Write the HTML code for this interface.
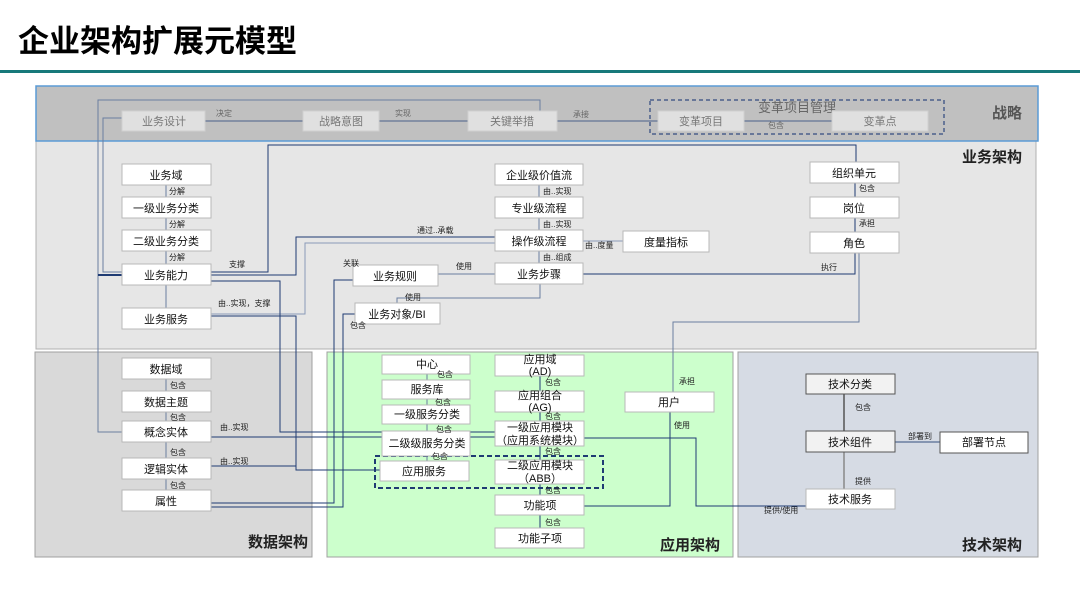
<!DOCTYPE html>
<html><head><meta charset="utf-8"><style>
html,body{margin:0;padding:0;background:#fff;width:1080px;height:608px;overflow:hidden}
svg text{font-family:"Liberation Sans","Noto Sans CJK SC",sans-serif}
</style></head><body>
<svg width="1080" height="608" viewBox="0 0 1080 608" xmlns="http://www.w3.org/2000/svg">
<text x="18" y="52" font-size="31" font-weight="bold" fill="#000">企业架构扩展元模型</text>
<rect x="0" y="70" width="1080" height="3" fill="#17797a"/>

<!-- areas -->
<rect x="36" y="141" width="1000" height="208" fill="#e6e6e6" stroke="#b0b0b0"/>
<rect x="36" y="86" width="1002" height="55" fill="#c0c0c0" stroke="#5b9bd5" stroke-width="1.5"/>
<rect x="35" y="352" width="277" height="205" fill="#d9d9d9" stroke="#a0a0a0"/>
<rect x="327" y="352" width="406" height="205" fill="#ccffcc" stroke="#a0a0a0"/>
<rect x="738" y="352" width="300" height="205" fill="#d6dbe4" stroke="#a0a0a0"/>

<g font-weight="bold" fill="#222" font-size="15">
<text x="992" y="118" fill="#555">战略</text>
<text x="962" y="162">业务架构</text>
<text x="248" y="547">数据架构</text>
<text x="660" y="550">应用架构</text>
<text x="962" y="550">技术架构</text>
</g>

<!-- connectors -->
<g fill="none" stroke="#1f3b73" stroke-width="1">
<path d="M205 121H303M379 121H468M557 121H658M744 121H832" stroke="#4a5f8a"/>
<path d="M540 111V100H98V432H122" stroke="#6a7ea0"/>
<path d="M122 118H103V272H122" stroke="#6a7ea0"/>
<path d="M98 275H122" stroke-width="2"/>
<path d="M211 272H268V145H856V162"/>
<path d="M211 275H296V237H495"/>
<path d="M211 314H305V243H495" stroke="#8a9ab8"/>
<path d="M211 281H280V432H495"/>
<path d="M211 437H495"/>
<path d="M211 316H296V470H380"/>
<path d="M211 466H296"/>
<path d="M211 503H334V280H353"/>
<path d="M211 507H343V314H355"/>
<path d="M438 274H495" stroke="#6a7ea0"/>
<path d="M540 284V298H397V303" stroke="#6a7ea0"/>
<path d="M583 274H855V253"/>
<path d="M859 253V322H673V392" stroke="#6a7ea0"/>
<path d="M583 241H623" stroke="#8a9ab8"/>
<path d="M670 412V506H584"/>
<path d="M584 438H696V506H806" stroke="#1f3b73"/>
<path d="M166 185V197M166 218V230M166 251V264M166 285V308" stroke="#6a7ea0"/>
<path d="M539 185V197M539 218V230M539 251V263" stroke="#6a7ea0"/>
<path d="M855 183V197M855 218V232" stroke="#1f3b73"/>
<path d="M166 379V391M166 412V421M166 442V458M166 479V490" stroke="#6a7ea0"/>
<path d="M427 374V380M427 399V405M427 424V431M427 456V461" stroke="#6a7ea0"/>
<path d="M540 376V391M540 412V421M540 446V460M540 484V495M540 515V528" stroke="#1f3b73"/>
<path d="M844 394V431" stroke="#555" stroke-width="1.5"/>
<path d="M844 452V489" stroke="#888" stroke-width="1.5"/>
<path d="M882 442H940" stroke="#6a7ea0" stroke-width="1.5"/>
</g>

<rect x="650" y="100" width="294" height="34" fill="none" stroke="#4a5f8a" stroke-width="1.5" stroke-dasharray="4,3"/>
<rect x="375" y="456" width="228" height="32" fill="none" stroke="#1f3b73" stroke-width="2" stroke-dasharray="5,3"/>
<text x="797" y="112" font-size="13" fill="#666" text-anchor="middle">变革项目管理</text>

<g fill="#e0e0e0" stroke="#d0d0d0">
<rect x="122" y="111" width="83" height="20"/>
<rect x="303" y="111" width="76" height="20"/>
<rect x="468" y="111" width="89" height="20"/>
<rect x="658" y="111" width="86" height="20"/>
<rect x="832" y="111" width="96" height="20"/>
</g>
<g font-size="11" fill="#777" text-anchor="middle">
<text x="164" y="125">业务设计</text>
<text x="341" y="125">战略意图</text>
<text x="512" y="125">关键举措</text>
<text x="701" y="125">变革项目</text>
<text x="880" y="125">变革点</text>
</g>

<g fill="#fff" stroke="#b8b8b8">
<rect x="122" y="164" width="89" height="21"/><rect x="122" y="197" width="89" height="21"/>
<rect x="122" y="230" width="89" height="21"/><rect x="122" y="264" width="89" height="21"/>
<rect x="122" y="308" width="89" height="21"/>
<rect x="495" y="164" width="88" height="21"/><rect x="495" y="197" width="88" height="21"/>
<rect x="495" y="230" width="88" height="21"/><rect x="495" y="263" width="88" height="21"/>
<rect x="623" y="231" width="86" height="21"/>
<rect x="353" y="265" width="85" height="21"/><rect x="355" y="303" width="85" height="21"/>
<rect x="810" y="162" width="89" height="21"/><rect x="810" y="197" width="89" height="21"/>
<rect x="810" y="232" width="89" height="21"/>
<rect x="122" y="358" width="89" height="21"/><rect x="122" y="391" width="89" height="21"/>
<rect x="122" y="421" width="89" height="21"/><rect x="122" y="458" width="89" height="21"/>
<rect x="122" y="490" width="89" height="21"/>
<rect x="382" y="355" width="88" height="19"/><rect x="382" y="380" width="88" height="19"/>
<rect x="382" y="405" width="88" height="19"/><rect x="382" y="431" width="88" height="25"/>
<rect x="380" y="461" width="89" height="20"/>
<rect x="495" y="355" width="89" height="21"/><rect x="495" y="391" width="89" height="21"/>
<rect x="495" y="421" width="89" height="25"/><rect x="495" y="460" width="89" height="24"/>
<rect x="495" y="495" width="89" height="20"/><rect x="495" y="528" width="89" height="20"/>
<rect x="625" y="392" width="89" height="20"/>
<rect x="806" y="374" width="89" height="20" fill="#f2f2f2" stroke="#555"/>
<rect x="806" y="431" width="89" height="21" fill="#f2f2f2" stroke="#555"/>
<rect x="806" y="489" width="89" height="20"/>
<rect x="940" y="432" width="88" height="21" stroke="#555"/>
</g>
<g font-size="11" fill="#111" text-anchor="middle">
<text x="166" y="179">业务域</text><text x="166" y="212">一级业务分类</text>
<text x="166" y="245">二级业务分类</text><text x="166" y="279">业务能力</text>
<text x="166" y="323">业务服务</text>
<text x="539" y="179">企业级价值流</text><text x="539" y="212">专业级流程</text>
<text x="539" y="245">操作级流程</text><text x="539" y="278">业务步骤</text>
<text x="666" y="246">度量指标</text>
<text x="395" y="280">业务规则</text><text x="397" y="318">业务对象/BI</text>
<text x="854" y="177">组织单元</text><text x="854" y="212">岗位</text><text x="854" y="247">角色</text>
<text x="166" y="373">数据域</text><text x="166" y="406">数据主题</text>
<text x="166" y="436">概念实体</text><text x="166" y="473">逻辑实体</text>
<text x="166" y="505">属性</text>
<text x="427" y="368">中心</text><text x="427" y="393">服务库</text>
<text x="427" y="418">一级服务分类</text><text x="427" y="447">二级级服务分类</text>
<text x="424" y="475">应用服务</text>
<text x="540" y="363">应用域</text><text x="540" y="375">(AD)</text>
<text x="540" y="399">应用组合</text><text x="540" y="411">(AG)</text>
<text x="540" y="431">一级应用模块</text><text x="540" y="444">（应用系统模块）</text>
<text x="540" y="469">二级应用模块</text><text x="540" y="482">（ABB）</text>
<text x="540" y="509">功能项</text><text x="540" y="542">功能子项</text>
<text x="669" y="406">用户</text>
<text x="850" y="388">技术分类</text><text x="850" y="446">技术组件</text>
<text x="850" y="503">技术服务</text><text x="984" y="446">部署节点</text>
</g>

<g font-size="8" fill="#222">
<text x="216" y="116" fill="#666">决定</text><text x="395" y="116" fill="#666">实现</text>
<text x="573" y="117" fill="#666">承接</text><text x="768" y="128" fill="#666">包含</text>
<text x="169" y="194">分解</text><text x="169" y="227">分解</text><text x="169" y="260">分解</text>
<text x="229" y="267">支撑</text><text x="218" y="306">由..实现，支撑</text>
<text x="417" y="233">通过..承载</text><text x="343" y="266">关联</text>
<text x="456" y="269">使用</text><text x="405" y="300">使用</text><text x="350" y="328">包含</text>
<text x="543" y="194">由..实现</text><text x="543" y="227">由..实现</text><text x="543" y="260">由..组成</text>
<text x="585" y="248">由..度量</text>
<text x="859" y="191">包含</text><text x="859" y="226">承担</text><text x="821" y="270">执行</text>
<text x="170" y="388">包含</text><text x="170" y="420">包含</text><text x="170" y="455">包含</text><text x="170" y="488">包含</text>
<text x="220" y="430">由..实现</text><text x="220" y="464">由..实现</text>
<text x="437" y="377">包含</text><text x="435" y="405">包含</text><text x="436" y="432">包含</text><text x="432" y="459">包含</text>
<text x="545" y="385">包含</text><text x="545" y="419">包含</text><text x="545" y="454">包含</text>
<text x="545" y="493">包含</text><text x="545" y="525">包含</text>
<text x="679" y="384">承担</text><text x="674" y="428">使用</text>
<text x="764" y="513">提供/使用</text>
<text x="855" y="410">包含</text><text x="908" y="439">部署到</text><text x="855" y="484">提供</text>
</g>
</svg>
</body></html>
